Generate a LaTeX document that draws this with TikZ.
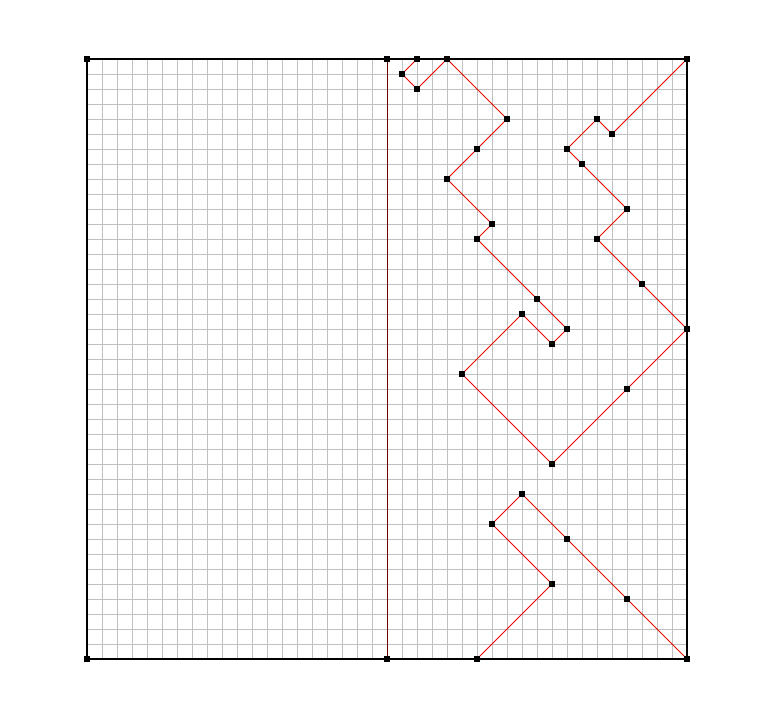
\documentclass[tikz,border=0pt]{standalone}
\usetikzlibrary{positioning, backgrounds}
\definecolor{GridGray}{RGB}{192,192,192}
\definecolor{RouteRed}{RGB}{235,0,0}
\tikzset{
  vertex/.style={rectangle, fill=black, draw=none, inner sep=0pt, minimum size=3pt},
  gridline/.style={GridGray, line width=0.45pt},
  route/.style={RouteRed, line width=0.5pt}
}

\begin{document}
\begin{tikzpicture}[x=0.3cm, y=0.3cm]
        \useasboundingbox (-5.8,-4) rectangle (45.8,43.933);
        % ---- corner points ----
        \foreach \n/\x/\y in {c1/0/40, c2/20/40, c3/0/0, c4/20/0} {
          \node[vertex] (\n) at (\x,\y) {};
        }
        % ---- upper route ----
        \foreach \n/\x/\y in {a1/22/40, a2/21/39, a3/22/38, a4/24/40, a5/28/36,
                              a6/26/34, a7/24/32, a8/27/29, a9/26/28, a10/30/24,
                              a11/32/22, a12/31/21, a13/29/23, a14/25/19, a15/31/13,
                              a16/36/18, a17/40/22, a18/37/25, a19/34/28, a20/36/30,
                              a21/33/33, a22/32/34, a23/34/36, a24/35/35, a25/40/40} {
          \node[vertex] (\n) at (\x,\y) {};
        }
        % ---- lower route ----
        \foreach \n/\x/\y in {b1/26/0, b2/31/5, b3/27/9, b4/29/11,
                              b5/32/8, b6/36/4, b7/40/0} {
          \node[vertex] (\n) at (\x,\y) {};
        }
        \begin{scope}[on background layer]
          % Grid
          \foreach \i in {1,...,39} {
            \draw[gridline] (\i,0)--(\i,40);
            \draw[gridline] (0,\i)--(40,\i);
          }
          % Frame and split line
          \draw[black, line width=0.75pt] (c3.center) rectangle (a25.center);
          \draw[RouteRed!45!black, line width=0.5pt] (c2.center)--(c4.center);
          % Routes
          \draw[route] (a1.center) \foreach \k in {2,...,25} {--(a\k.center)};
          \draw[route] (b1.center) \foreach \k in {2,...,7} {--(b\k.center)};
        \end{scope}
      \end{tikzpicture}
\end{document}
